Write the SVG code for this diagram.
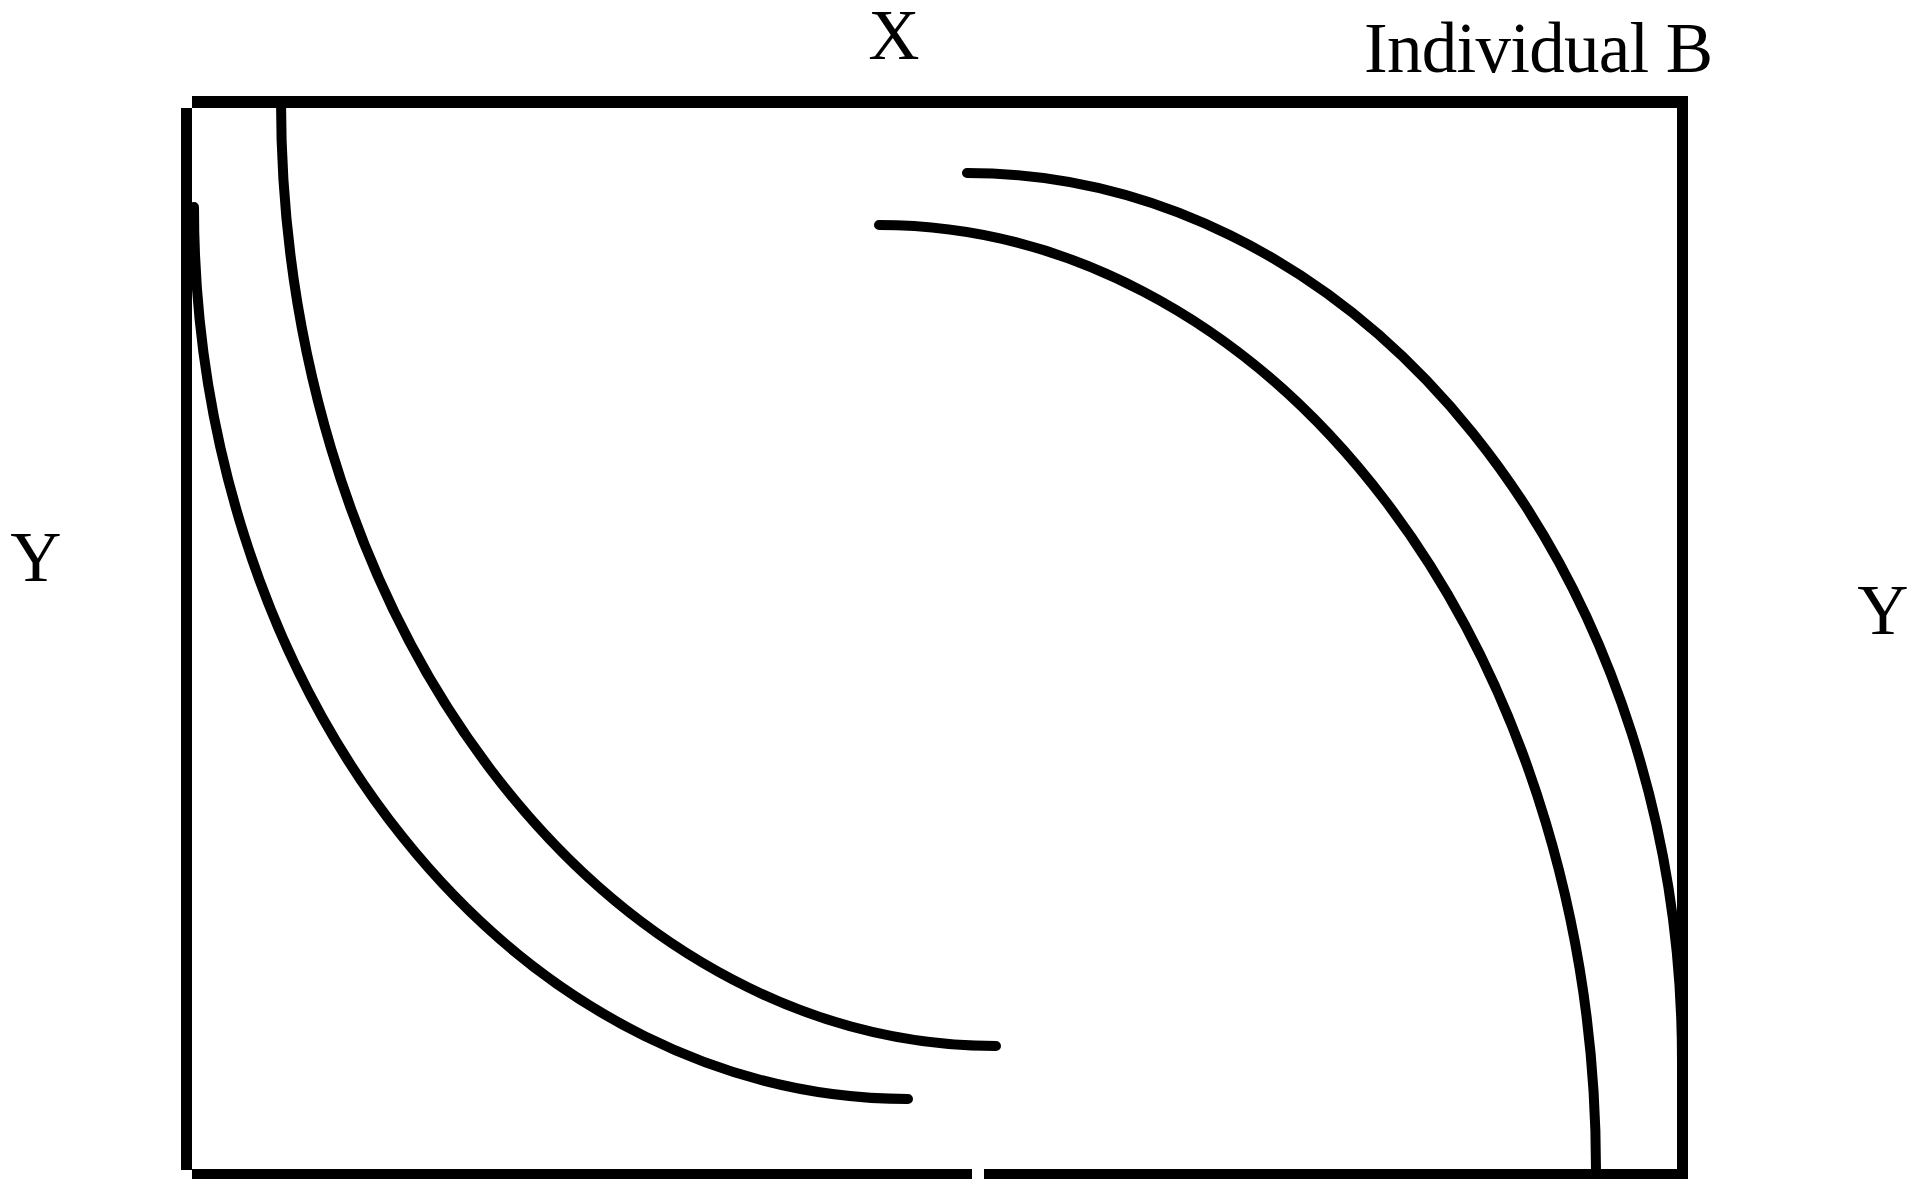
<svg xmlns="http://www.w3.org/2000/svg" width="1927" height="1179" viewBox="0 0 1927 1179">
<style>
.frame{stroke:#000;fill:none;stroke-linecap:butt}
.curve{stroke:#000;fill:none;stroke-width:10;stroke-linecap:round}
.lbl{font-family:"Liberation Serif","Times New Roman",serif;font-size:71px;fill:#000}
</style>
<rect width="1927" height="1179" fill="#fff"/>
<g id="frame">
<line class="frame" x1="192" y1="102" x2="884" y2="102" stroke-width="12"/>
<line class="frame" x1="884" y1="102" x2="1688" y2="102" stroke-width="12"/>
<line class="frame" x1="186.5" y1="108" x2="186.5" y2="1170" stroke-width="11"/>
<line class="frame" x1="192" y1="1175" x2="972" y2="1175" stroke-width="12"/>
<line class="frame" x1="984" y1="1175" x2="1682" y2="1175" stroke-width="12"/>
<line class="frame" x1="1682.5" y1="96" x2="1682.5" y2="1179" stroke-width="11"/>
</g>
<g id="connectors">
<path id="a-inner" class="curve" d="M281,101 A715,945 0 0 0 996,1046"/>
<path id="a-outer" class="curve" d="M194,207 A714,892 0 0 0 908,1099"/>
<path id="b-outer" class="curve" d="M967,173 A715,887 0 0 1 1682,1060"/>
<path id="b-inner" class="curve" d="M879,225 A717,945 0 0 1 1596,1170"/>
</g>
<g id="label-x"><text class="lbl" x="894" y="59" text-anchor="middle">X</text></g>
<g id="label-b"><text class="lbl" x="1364" y="72" textLength="349">Individual B</text></g>
<g id="label-y-left"><text class="lbl" x="36" y="581" text-anchor="middle">Y</text></g>
<g id="label-y-right"><text class="lbl" x="1883" y="634" text-anchor="middle">Y</text></g>
</svg>
